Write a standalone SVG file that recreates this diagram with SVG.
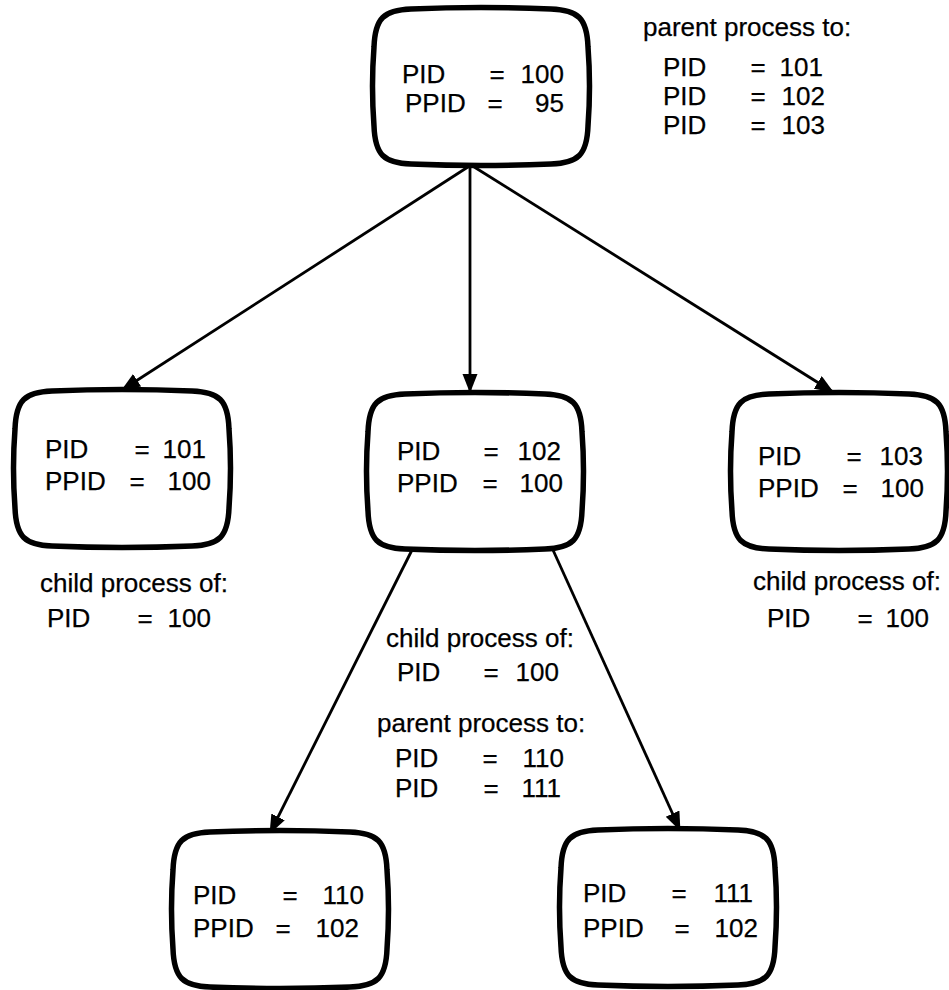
<svg xmlns="http://www.w3.org/2000/svg" width="949" height="990" viewBox="0 0 949 990">
<style>
text{font-family:"Liberation Sans",Arial,sans-serif;font-size:26px;fill:#000;stroke:#000;stroke-width:0.25}
.n{text-anchor:end}
.e{text-anchor:middle}
.box{fill:#fff;stroke:#000;stroke-width:5.5;stroke-linejoin:round}
.con{stroke:#000;stroke-width:2.8;fill:none;marker-end:url(#ah)}
</style>
<defs>
<marker id="ah" markerUnits="userSpaceOnUse" markerWidth="20" markerHeight="16" refX="18" refY="7.5" orient="auto">
<path d="M0,0 L19,7.5 L0,15 z" fill="#000"/>
</marker>
<path id="boxshape" class="box" d="M38,0 Q108,-3 178,0 C205,1 214,9 215,38 Q218,77 215,117 C214,146 205,154 178,155 Q108,158 38,155 C11,154 2,146 1,117 Q-2,77 1,38 C2,9 11,1 38,0 Z"/>
</defs>
<rect width="949" height="990" fill="#fff"/>
<g id="connectors">
<line class="con" x1="471" y1="165" x2="122" y2="390"/>
<line class="con" x1="470" y1="165" x2="470" y2="392"/>
<line class="con" x1="471" y1="165" x2="833" y2="392"/>
<line class="con" x1="412" y1="550" x2="270" y2="833"/>
<line class="con" x1="553" y1="550" x2="680" y2="830"/>
</g>
<g id="n100">
<use href="#boxshape" x="373" y="9"/>
<text x="402" y="83">PID</text><text class="e" x="497" y="83">=</text><text class="n" x="564" y="83">100</text>
<text x="405" y="112">PPID</text><text class="e" x="495" y="112">=</text><text class="n" x="564" y="112">95</text>
</g>
<g id="n100-note">
<text x="643" y="36">parent process to:</text>
<text x="663" y="76">PID</text><text class="e" x="758" y="76">=</text><text class="n" x="823" y="76">101</text>
<text x="663" y="105">PID</text><text class="e" x="758" y="105">=</text><text class="n" x="825" y="105">102</text>
<text x="663" y="134">PID</text><text class="e" x="758" y="134">=</text><text class="n" x="825" y="134">103</text>
</g>
<g id="n101">
<use href="#boxshape" x="14" y="391"/>
<text x="45" y="458">PID</text><text class="e" x="142" y="458">=</text><text class="n" x="206" y="458">101</text>
<text x="45" y="490">PPID</text><text class="e" x="137" y="490">=</text><text class="n" x="211" y="490">100</text>
</g>
<g id="n101-note">
<text x="40" y="592">child process of:</text>
<text x="47" y="627">PID</text><text class="e" x="145" y="627">=</text><text class="n" x="211" y="627">100</text>
</g>
<g id="n102">
<use href="#boxshape" x="367" y="394"/>
<text x="397" y="460">PID</text><text class="e" x="491" y="460">=</text><text class="n" x="561" y="460">102</text>
<text x="397" y="492">PPID</text><text class="e" x="490" y="492">=</text><text class="n" x="563" y="492">100</text>
</g>
<g id="n102-note">
<text x="386" y="647">child process of:</text>
<text x="397" y="681">PID</text><text class="e" x="491" y="681">=</text><text class="n" x="559" y="681">100</text>
<text x="377" y="732">parent process to:</text>
<text x="395" y="767">PID</text><text class="e" x="490" y="767">=</text><text class="n" x="564" y="767">110</text>
<text x="395" y="797">PID</text><text class="e" x="491" y="797">=</text><text class="n" x="561" y="797">111</text>
</g>
<g id="n103">
<use href="#boxshape" x="731" y="394"/>
<text x="758" y="465">PID</text><text class="e" x="854" y="465">=</text><text class="n" x="923" y="465">103</text>
<text x="758" y="497">PPID</text><text class="e" x="850" y="497">=</text><text class="n" x="924" y="497">100</text>
</g>
<g id="n103-note">
<text x="753" y="590">child process of:</text>
<text x="767" y="627">PID</text><text class="e" x="865" y="627">=</text><text class="n" x="929" y="627">100</text>
</g>
<g id="n110">
<use href="#boxshape" x="172" y="832"/>
<text x="193" y="904">PID</text><text class="e" x="290" y="904">=</text><text class="n" x="364" y="904">110</text>
<text x="193" y="937">PPID</text><text class="e" x="283" y="937">=</text><text class="n" x="359" y="937">102</text>
</g>
<g id="n111">
<use href="#boxshape" x="560" y="830"/>
<text x="583" y="902">PID</text><text class="e" x="679" y="902">=</text><text class="n" x="753" y="902">111</text>
<text x="583" y="937">PPID</text><text class="e" x="682" y="937">=</text><text class="n" x="758" y="937">102</text>
</g>
</svg>
